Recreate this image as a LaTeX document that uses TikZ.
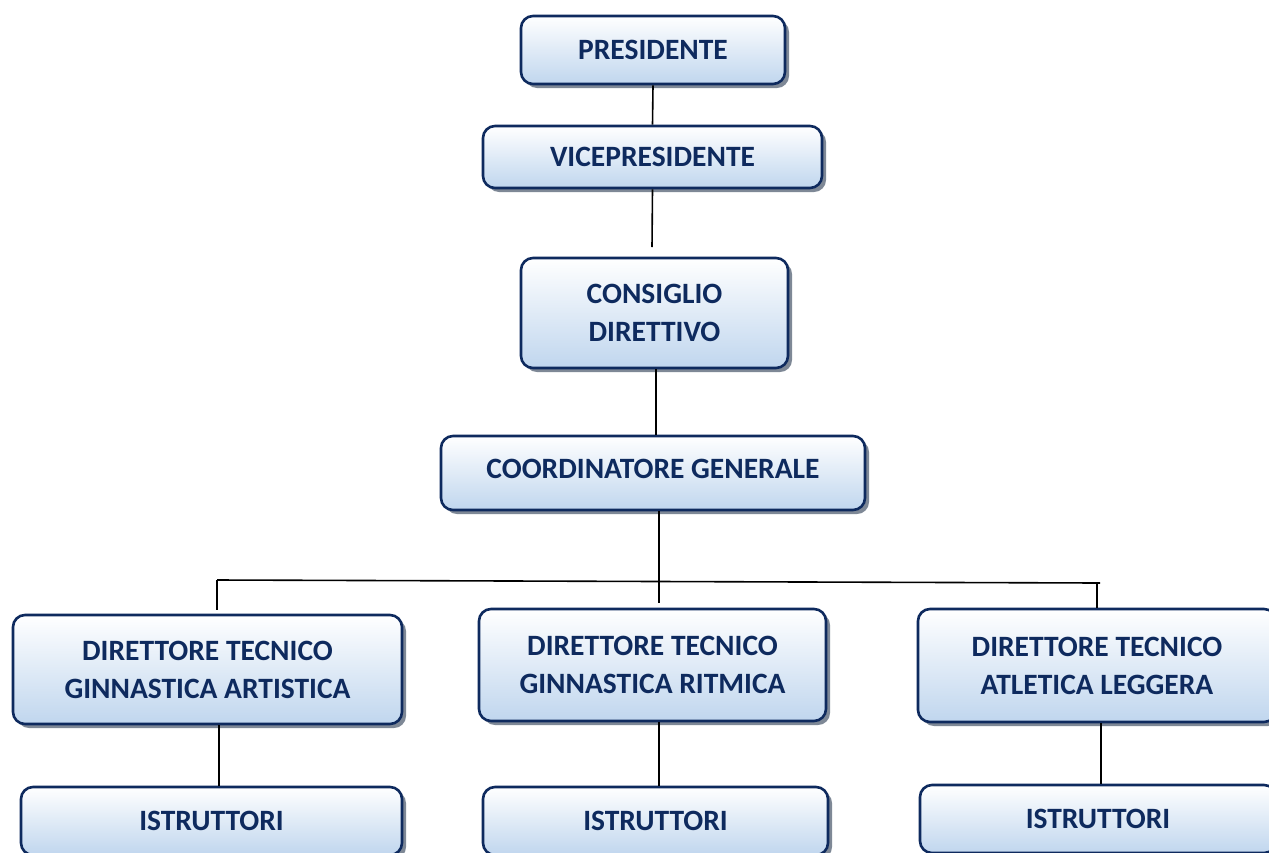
\documentclass[tikz,border=0pt]{standalone}
\usepackage{fontspec}
\setmainfont{Carlito}
\usetikzlibrary{shadows}
\definecolor{navy}{HTML}{0E2A5E}
\definecolor{boxbot}{HTML}{C0D6EE}
\definecolor{shadowc}{HTML}{7E8896}
\tikzset{
  orgbox/.style={draw=navy, line width=2.6pt, rounded corners=12pt,
    top color=white, bottom color=boxbot, text=navy,
    font=\fontsize{29.5}{38}\selectfont\bfseries, align=center,
    inner sep=0pt, anchor=center,
    drop shadow={shadow xshift=4pt, shadow yshift=-4pt, fill=shadowc, opacity=1}},
  link/.style={draw=black, line width=1.6pt}
}
\begin{document}
\begin{tikzpicture}[x=1pt,y=-1pt]
\useasboundingbox (0,0) rectangle (1269,852);
\clip (0,0) rectangle (1269,852);
\fill[white] (0,0) rectangle (1269,852);
% nodes
\node[orgbox, minimum width=264pt, minimum height=68pt] (pres) at (653,50) {PRESIDENTE};
\node[orgbox, minimum width=339pt, minimum height=62pt] (vice) at (652.5,157) {VICEPRESIDENTE};
\node[orgbox, minimum width=267pt, minimum height=110pt] (cons) at (654.5,313) {CONSIGLIO\\DIRETTIVO};
\node[orgbox, minimum width=424pt, minimum height=74pt, text depth=8pt] (coord) at (653,473) {COORDINATORE GENERALE};
\node[orgbox, minimum width=389pt, minimum height=109pt] (dta) at (207.5,669.5) {DIRETTORE TECNICO\\GINNASTICA ARTISTICA};
\node[orgbox, minimum width=347pt, minimum height=112pt] (dtr) at (652.5,665) {DIRETTORE TECNICO\\GINNASTICA RITMICA};
\node[orgbox, minimum width=358pt, minimum height=113pt] (dtl) at (1097,665.5) {DIRETTORE TECNICO\\ATLETICA LEGGERA};
\node[orgbox, minimum width=381pt, minimum height=68pt] (isa) at (211.5,821) {ISTRUTTORI};
\node[orgbox, minimum width=345pt, minimum height=68pt] (isr) at (655.5,821) {ISTRUTTORI};
\node[orgbox, minimum width=356pt, minimum height=68pt] (isl) at (1098,819) {ISTRUTTORI};
% free ends
\coordinate (viceend) at (652,247);
\coordinate (coordend) at (659,603);
\coordinate (busL) at (217,580);
\coordinate (busR) at (1100,583);
\coordinate (stubL) at (217,610);
\coordinate (stubR) at (1097,608);
\coordinate (busRtop) at (1097,583);
% connectors
\draw[link] (pres.south) -- (vice.north);
\draw[link] (vice.south) -- (viceend);
\draw[link] (cons.south -| 656,0) -- (coord.north -| 656,0);
\draw[link] (coord.south -| 659,0) -- (coordend);
\draw[link] (busL) -- (busR);
\draw[link] (busL) -- (stubL);
\draw[link] (busRtop) -- (stubR);
\draw[link] (dta.south -| 219,0) -- (isa.north -| 219,0);
\draw[link] (dtr.south -| 659,0) -- (isr.north -| 659,0);
\draw[link] (dtl.south -| 1101,0) -- (isl.north -| 1101,0);
\end{tikzpicture}
\end{document}
